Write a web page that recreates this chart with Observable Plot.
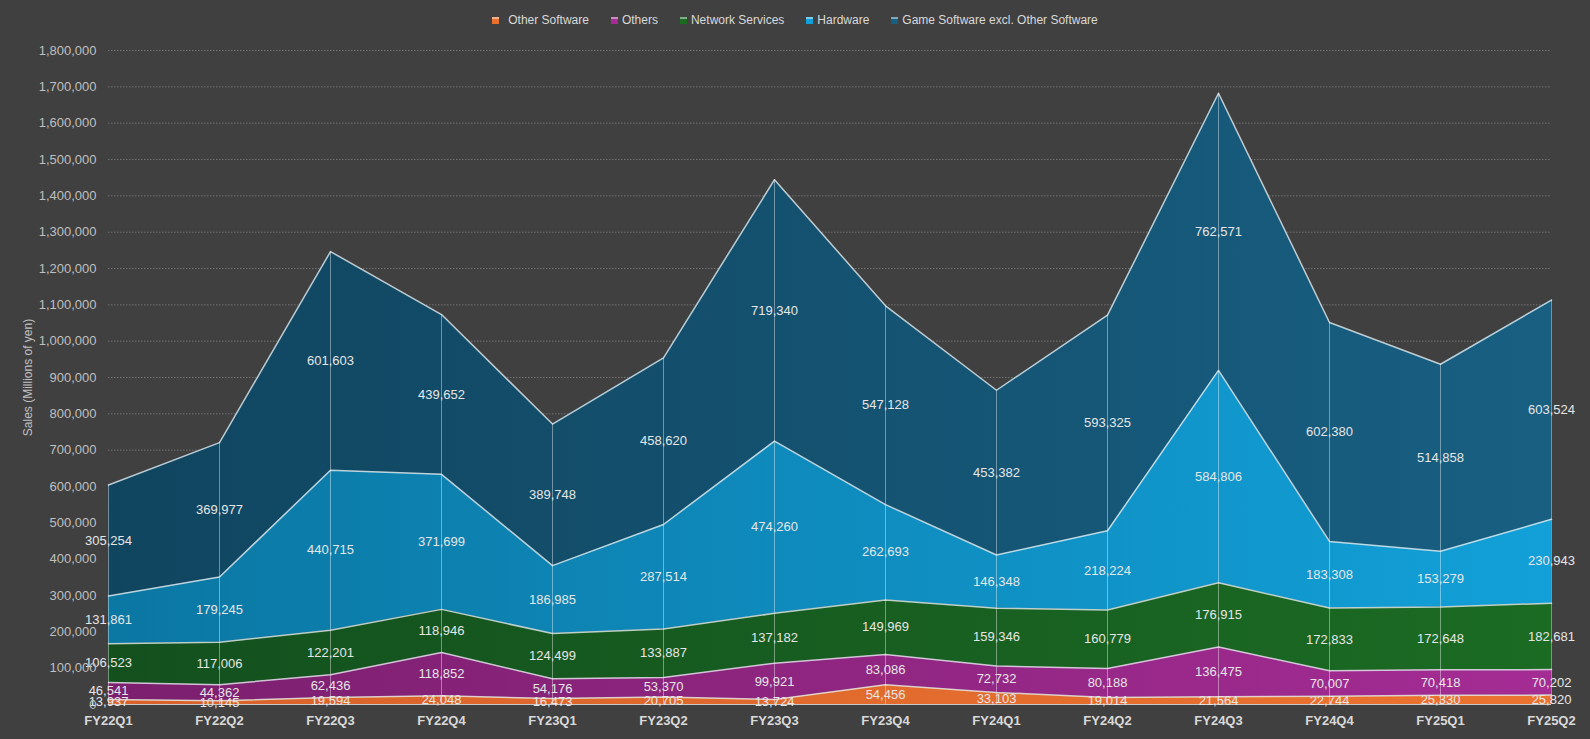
<!DOCTYPE html>
<html>
<head>
<meta charset="utf-8">
<script src="https://cdn.jsdelivr.net/npm/d3@7"></script>
<script src="https://cdn.jsdelivr.net/npm/@observablehq/plot@0.6"></script>
<style>
  html, body { margin: 0; padding: 0; background: #404040; }
  #wrap { width: 1590px; height: 739px; background: #404040; overflow: hidden; }
  #legend { height: 40px; display: flex; justify-content: center; align-items: center;
            font-family: "Liberation Sans", Arial, sans-serif; font-size: 12px; color: #d9d9d9; }
  .item { display: flex; align-items: center; margin: 0 11px; }
  .sw { width: 7px; height: 7px; margin-right: 4px; box-sizing: border-box; }
</style>
</head>
<body>
<div id="wrap">
  <div id="legend"></div>
  <div id="chart"></div>
</div>
<script>
const quarters = ["FY22Q1","FY22Q2","FY22Q3","FY22Q4","FY23Q1","FY23Q2","FY23Q3","FY23Q4","FY24Q1","FY24Q2","FY24Q3","FY24Q4","FY25Q1","FY25Q2"];
const otherSoftware   = [13937, 10145, 19594, 24048, 16473, 20705, 13724, 54456, 33103, 19014, 21564, 22744, 25330, 25820];
const others          = [46541, 44362, 62436, 118852, 54176, 53370, 99921, 83086, 72732, 80188, 136475, 70007, 70418, 70202];
const networkServices = [106523, 117006, 122201, 118946, 124499, 133887, 137182, 149969, 159346, 160779, 176915, 172833, 172648, 182681];
const hardware        = [131861, 179245, 440715, 371699, 186985, 287514, 474260, 262693, 146348, 218224, 584806, 183308, 153279, 230943];
const gameSoftware    = [305254, 369977, 601603, 439652, 389748, 458620, 719340, 547128, 453382, 593325, 762571, 602380, 514858, 603524];
const seriesNames = ["Other Software", "Others", "Network Services", "Hardware", "Game Software excl. Other Software"];
const seriesValues = [otherSoftware, others, networkServices, hardware, gameSoftware];
const yTicks = [0,100000,200000,300000,400000,500000,600000,700000,800000,900000,1000000,1100000,1200000,1300000,1400000,1500000,1600000,1700000,1800000];
const yLabel = "Sales (Millions of yen)";

// styles (left colour, right colour) for horizontal gradients
const gradColors = [
  ["#d8622a", "#ea7330"],
  ["#7b1f6e", "#a42c94"],
  ["#13501e", "#1b6b23"],
  ["#0b77a3", "#12a0d8"],
  ["#10455f", "#185f82"]
];
const legendColors = ["#e8702f", "#a42c94", "#1b6b23", "#12a0d8", "#185f82"];

// legend
const legend = document.getElementById("legend");
seriesNames.forEach((name, k) => {
  const it = document.createElement("div");
  it.className = "item";
  const sw = document.createElement("div");
  sw.className = "sw";
  sw.style.background = legendColors[k];
  sw.style.borderTop = "2px solid rgba(255,255,255,0.45)";
  if (k === 0) sw.style.marginRight = "9px";
  const t = document.createElement("span");
  t.textContent = name;
  it.appendChild(sw); it.appendChild(t);
  legend.appendChild(it);
});

// stacked table
const rows = [];
quarters.forEach((q, i) => {
  let acc = 0;
  seriesNames.forEach((s, k) => {
    const v = seriesValues[k][i];
    rows.push({q, series: s, k, value: v, y1: acc, y2: acc + v, mid: acc + v / 2});
    acc += v;
  });
});
const totals = quarters.map((q, i) => ({q, total: d3.sum(seriesValues, a => a[i])}));

const fmt = d3.format(",");
const areas = seriesNames.map((s, k) =>
  Plot.areaY(rows.filter(d => d.k === k), {x: "q", y1: "y1", y2: "y2", fill: `url(#grad${k})`}));
const lines = seriesNames.map((s, k) =>
  Plot.line(rows.filter(d => d.k === k), {x: "q", y: "y2", stroke: "#e6ecef", strokeOpacity: 0.8, strokeWidth: 1.5}));

const chart = Plot.plot({
  width: 1590, height: 699,
  marginTop: 10, marginBottom: 35, marginLeft: 108, marginRight: 39,
  style: {background: "#404040", color: "#bfbfbf", fontFamily: "'Liberation Sans', Arial, sans-serif", fontSize: "13px"},
  x: {type: "point", domain: quarters, padding: 0, label: null},
  y: {domain: [0, 1800000], label: null},
  marks: [
    Plot.gridY(yTicks, {stroke: "#9a9a9a", strokeOpacity: 0.55, strokeDasharray: "1.5,1.5"}),
    ...areas,
    ...lines,
    Plot.ruleX(totals, {x: "q", y1: 0, y2: "total", stroke: "white", strokeOpacity: 0.4, strokeWidth: 1}),
    Plot.ruleY([0], {stroke: "#c8c8c8", strokeWidth: 1}),
    Plot.text(rows, {x: "q", y: "mid", text: d => fmt(d.value), fill: "#e6e6e6", fontSize: 13}),
    Plot.axisY(yTicks, {tickSize: 0, tickPadding: 12, tickFormat: fmt, fill: "#bfbfbf", fontSize: 13, label: null}),
    Plot.axisX({tickSize: 0, tickPadding: 11, fontWeight: "bold", fill: "#d9d9d9", fontSize: 13, label: null}),
    Plot.text([yLabel], {frameAnchor: "left", textAnchor: "middle", rotate: -90, dx: -80, fill: "#c0c0c0", fontSize: 12})
  ]
});

// gradient definitions
const ns = "http://www.w3.org/2000/svg";
const defs = document.createElementNS(ns, "defs");
gradColors.forEach((c, k) => {
  const g = document.createElementNS(ns, "linearGradient");
  g.setAttribute("id", "grad" + k);
  g.setAttribute("x1", "0"); g.setAttribute("x2", "1");
  g.setAttribute("y1", "0"); g.setAttribute("y2", "0");
  [[0, c[0]], [1, c[1]]].forEach(([o, col]) => {
    const st = document.createElementNS(ns, "stop");
    st.setAttribute("offset", o);
    st.setAttribute("stop-color", col);
    g.appendChild(st);
  });
  defs.appendChild(g);
});
chart.insertBefore(defs, chart.firstChild);
document.getElementById("chart").appendChild(chart);
</script>
</body>
</html>
